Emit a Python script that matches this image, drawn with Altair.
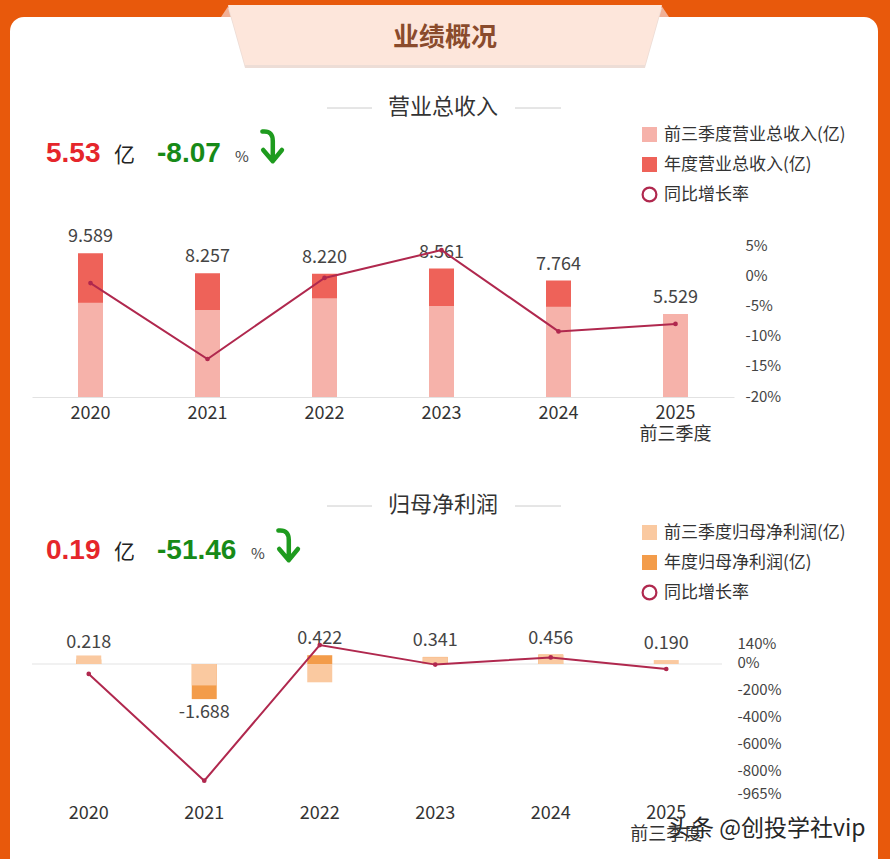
import altair as alt
import pandas as pd

# ---------------- data ----------------
years = ["2020", "2021", "2022", "2023", "2024", "2025"]

# 营业总收入 (亿)
rev_annual = [9.589, 8.257, 8.220, 8.561, 7.764, None]
rev_q3 = [6.29, 5.80, 6.58, 6.07, 6.02, 5.529]
rev_labels = [9.589, 8.257, 8.220, 8.561, 7.764, 5.529]
rev_growth = [-1.3, -13.87, -0.45, 4.15, -9.31, -8.07]
rev_ticks = [5, 0, -5, -10, -15, -20]

# 归母净利润 (亿)
np_annual = [0.218, -1.688, 0.422, 0.341, 0.456, None]
np_q3 = [0.41, -1.03, -0.88, 0.33, 0.44, 0.190]
np_labels = [0.218, -1.688, 0.422, 0.341, 0.456, 0.190]
np_growth = [-88.0, -874.3, 125.0, -19.2, 33.7, -51.46]
np_ticks = [140, 0, -200, -400, -600, -800, -965]

REV_Q3 = "前三季度营业总收入(亿)"
REV_YR = "年度营业总收入(亿)"
NP_Q3 = "前三季度归母净利润(亿)"
NP_YR = "年度归母净利润(亿)"
GROWTH = "同比增长率"

# ---------------- style ----------------
CJK = "Noto Sans CJK SC"
NUM = "Liberation Sans"
ORANGE = "#E8590C"
LINE_C = "#B0284E"
W, H = 890, 859

one = pd.DataFrame({"a": [0]})


def text(t, x, y, size, color, weight="normal", font=CJK, align="left", baseline="middle"):
    return alt.Chart(one).mark_text(
        text=t, fontSize=size, color=color, fontWeight=weight, font=font,
        align=align, baseline=baseline,
    ).encode(x=alt.value(x), y=alt.value(y))


def hrule(x1, x2, y, color="#cccccc"):
    return alt.Chart(one).mark_rule(color=color, strokeWidth=1).encode(
        x=alt.value(x1), x2=alt.value(x2), y=alt.value(y))


def shape(path, x, y, size, fill=None, stroke=None, sw=0):
    kw = dict(shape=path, size=size, opacity=1)
    if fill:
        kw.update(filled=True, fill=fill, strokeWidth=0)
    else:
        kw.update(filled=False, stroke=stroke, strokeWidth=sw, strokeCap="round", strokeJoin="round")
    return alt.Chart(one).mark_point(**kw).encode(x=alt.value(x), y=alt.value(y))


ARROW = "M-0.6,-0.9 C-0.1,-0.95 0.05,-0.7 0.05,-0.3 L0.05,0.9 M-0.55,0.25 L0.05,0.95 L0.62,0.25"

# ---------------- decoration: card, banner, headings ----------------
card = alt.Chart(one).mark_rect(fill="white", cornerRadius=14).encode(
    x=alt.value(10), x2=alt.value(878), y=alt.value(17), y2=alt.value(920))

fold_l = shape("M-0.8,0.6 L0,-0.6 L0.9,0.6 Z", 229, 11, 400, fill="#F0B096")
fold_r = shape("M-0.9,0.6 L0,-0.6 L0.8,0.6 Z", 661, 11, 400, fill="#F0B096")
banner_shadow = shape("M-0.986,-0.136 L0.986,-0.136 L0.909,0.136 L-0.909,0.136 Z",
                      445, 38, 193600, fill="#EDDDD6")
banner = shape("M-0.986,-0.136 L0.986,-0.136 L0.909,0.136 L-0.909,0.136 Z",
               445, 35, 193600, fill="#FDE6DB")
banner_text = text("业绩概况", 445, 38, 26, "#8A4B2C", weight="bold", align="center")

sec1 = [text("营业总收入", 443, 107, 22, "#333333", align="center"),
        hrule(327, 372, 108), hrule(515, 561, 108)]
sec2 = [text("归母净利润", 443, 505, 22, "#333333", align="center"),
        hrule(327, 372, 506), hrule(515, 561, 506)]

head1 = [
    text(f"{rev_q3[-1]:.2f}", 46, 154, 28, "#E5262B", weight="bold", font=NUM),
    text("亿", 114, 156, 21, "#222222"),
    text(f"{rev_growth[-1]:.2f}", 157, 154, 28, "#178A17", weight="bold", font=NUM),
    text("%", 235, 157, 15, "#444444"),
    shape(ARROW, 272, 146, 1024, stroke="#1E9B1E", sw=4.5),
]
head2 = [
    text(f"{np_q3[-1]:.2f}", 46, 551, 28, "#E5262B", weight="bold", font=NUM),
    text("亿", 114, 553, 21, "#222222"),
    text(f"{np_growth[-1]:.2f}", 157, 551, 28, "#178A17", weight="bold", font=NUM),
    text("%", 251, 554, 15, "#444444"),
    shape(ARROW, 288, 545, 1024, stroke="#1E9B1E", sw=4.5),
]

# ---------------- shared scales ----------------
top_x = alt.Scale(type="band", domain=years, range=[32, 734], paddingInner=0, paddingOuter=0)
top_yl = alt.Scale(domain=[0, 10], range=[397, 247], nice=False, zero=False)
top_yr = alt.Scale(domain=[-20, 5], range=[396, 245], nice=False, zero=False)
bot_x = alt.Scale(type="band", domain=years, range=[31, 724], paddingInner=0, paddingOuter=0)
bot_yl = alt.Scale(domain=[-2, 1], range=[705.6, 643.2], nice=False, zero=False)
bot_yr = alt.Scale(domain=[-965, 140], range=[793, 643], nice=False, zero=False)

year_expr = "datum.value == '2025' ? ['2025', '前三季度'] : datum.value"


def x_axis(offset, domain):
    return alt.Axis(orient="bottom", offset=offset, domain=domain, domainColor="#E2E2E2",
                    ticks=False, grid=False, title=None, labelPadding=7, labelFontSize=18,
                    labelColor="#333333", labelFont=CJK, labelExpr=year_expr, labelLineHeight=21,
                    labelAngle=0, zindex=2)


def growth_axis(offset, values):
    return alt.Axis(orient="right", offset=offset, values=values, labelExpr="datum.value + '%'",
                    domain=False, ticks=False, grid=False, title=None, labelPadding=5,
                    labelFontSize=15, labelColor="#444444", labelFont=CJK,
                    labelOverlap=False, labelBound=False, labelFlush=False, zindex=2)


def bar_legend(y):
    return alt.Legend(title=None, orient="none", legendX=641, legendY=y, symbolType="square",
                      symbolSize=225, symbolStrokeWidth=0, labelFontSize=17, labelColor="#333333",
                      labelFont=CJK, rowPadding=12, labelOffset=6, padding=0, labelLimit=0)


def line_legend(y):
    return alt.Legend(title=None, orient="none", legendX=641, legendY=y, symbolType="circle",
                      symbolSize=190, symbolStrokeWidth=2.2, symbolFillColor="white",
                      labelFontSize=17, labelColor="#333333", labelFont=CJK, labelOffset=6,
                      padding=0, labelLimit=0)


def bars_frame(annual, q3, yr_name, q3_name):
    rows = [{"year": y, "value": v, "series": yr_name} for y, v in zip(years, annual) if v is not None]
    rows += [{"year": y, "value": v, "series": q3_name} for y, v in zip(years, q3) if v is not None]
    return pd.DataFrame(rows)


def label_frame(labels, growth):
    return pd.DataFrame({"year": years, "label": labels, "txt": [f"{v:.3f}" for v in labels],
                         "growth": growth, "s": GROWTH})


# ---------------- 营业总收入 panel ----------------
top_bar_df = bars_frame(rev_annual, rev_q3, REV_YR, REV_Q3)
top_df = label_frame(rev_labels, rev_growth)

top_bars = alt.Chart(top_bar_df).mark_bar(size=25).encode(
    x=alt.X("year:N", scale=top_x, axis=x_axis(397 - H, True), sort=years),
    y=alt.Y("value:Q", scale=top_yl, axis=None, stack=None),
    color=alt.Color("series:N", scale=alt.Scale(domain=[REV_Q3, REV_YR], range=["#F6B2AA", "#EE6259"]),
                    legend=bar_legend(126)),
)
top_labels = alt.Chart(top_df).mark_text(baseline="bottom", dy=-7, fontSize=18, color="#444444",
                                         font=CJK).encode(
    x=alt.X("year:N", scale=top_x, axis=None, sort=years),
    y=alt.Y("label:Q", scale=top_yl, axis=None),
    text="txt:N",
)
top_line = alt.Chart(top_df).mark_line(strokeWidth=2).encode(
    x=alt.X("year:N", scale=top_x, axis=None, sort=years),
    y=alt.Y("growth:Q", scale=top_yr, axis=growth_axis(-150, rev_ticks)),
    stroke=alt.Stroke("s:N", scale=alt.Scale(domain=[GROWTH], range=[LINE_C]), legend=line_legend(186)),
)
top_pts = alt.Chart(top_df).mark_circle(size=22, color=LINE_C, opacity=1).encode(
    x=alt.X("year:N", scale=top_x, axis=None, sort=years),
    y=alt.Y("growth:Q", scale=top_yr, axis=None),
)

# ---------------- 归母净利润 panel ----------------
bot_bar_df = bars_frame(np_annual, np_q3, NP_YR, NP_Q3)
bot_df = label_frame(np_labels, np_growth)

zero_line = alt.Chart(pd.DataFrame({"zero": [0]})).mark_rule(color="#E4E4E4", strokeWidth=1.2).encode(
    x=alt.value(32), x2=alt.value(722),
    y=alt.Y("zero:Q", scale=bot_yl, axis=None),
)
bot_bars = alt.Chart(bot_bar_df).mark_bar(size=25).encode(
    x=alt.X("year:N", scale=bot_x, axis=x_axis(797 - H, False), sort=years),
    y=alt.Y("value:Q", scale=bot_yl, axis=None, stack=None),
    color=alt.Color("series:N", scale=alt.Scale(domain=[NP_Q3, NP_YR], range=["#FAC9A0", "#F39C4A"]),
                    legend=bar_legend(524)),
)
bot_labels_pos = alt.Chart(bot_df).transform_filter("datum.label >= 0").mark_text(
    baseline="bottom", dy=-7, fontSize=18, color="#444444", font=CJK).encode(
    x=alt.X("year:N", scale=bot_x, axis=None, sort=years),
    y=alt.Y("label:Q", scale=bot_yl, axis=None),
    text="txt:N",
)
bot_labels_neg = alt.Chart(bot_df).transform_filter("datum.label < 0").mark_text(
    baseline="top", dy=5, fontSize=18, color="#444444", font=CJK).encode(
    x=alt.X("year:N", scale=bot_x, axis=None, sort=years),
    y=alt.Y("label:Q", scale=bot_yl, axis=None),
    text="txt:N",
)
bot_line = alt.Chart(bot_df).mark_line(strokeWidth=2).encode(
    x=alt.X("year:N", scale=bot_x, axis=None, sort=years),
    y=alt.Y("growth:Q", scale=bot_yr, axis=growth_axis(-158, np_ticks)),
    stroke=alt.Stroke("s:N", scale=alt.Scale(domain=[GROWTH], range=[LINE_C]), legend=line_legend(584)),
)
bot_pts = alt.Chart(bot_df).mark_circle(size=22, color=LINE_C, opacity=1).encode(
    x=alt.X("year:N", scale=bot_x, axis=None, sort=years),
    y=alt.Y("growth:Q", scale=bot_yr, axis=None),
)

watermark = text("头条 @创投学社vip", 668, 829, 23, "#262626")

layers = [card, fold_l, fold_r, banner_shadow, banner, banner_text, *sec1, *sec2, *head1, *head2,
          top_bars, top_labels, top_line, top_pts,
          zero_line, bot_bars, bot_labels_pos, bot_labels_neg, bot_line, bot_pts, watermark]

chart = (
    alt.layer(*layers)
    .resolve_scale(x="independent", y="independent", color="independent", stroke="independent")
    .resolve_axis(x="independent", y="independent")
    .resolve_legend(color="independent", stroke="independent")
    .properties(width=W, height=H, background=ORANGE, padding=0,
                autosize=alt.AutoSizeParams(type="none"))
    .configure_view(stroke=None, fill=None)
)

chart.save("out.html", embed_options={"renderer": "svg", "actions": False})
